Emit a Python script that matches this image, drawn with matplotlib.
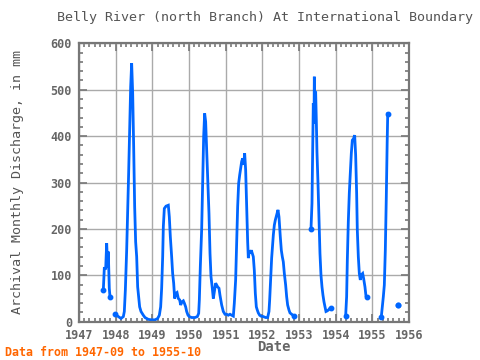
import matplotlib
matplotlib.use("Agg")
import matplotlib.pyplot as plt
from matplotlib.ticker import MultipleLocator
import numpy as np

# traced discharge record, decimal year vs mm, split where the record has gaps
seg1_t = [1947.663, 1947.690, 1947.728, 1947.755, 1947.782, 1947.799, 1947.826, 1947.845]
seg1_v = [68, 115, 115, 169, 116, 151, 72, 54]

seg2_t = [1947.982, 1948.027, 1948.073, 1948.145, 1948.209, 1948.236, 1948.264, 1948.300,
          1948.327, 1948.354, 1948.382, 1948.409, 1948.436, 1948.464, 1948.491, 1948.518,
          1948.545, 1948.573, 1948.600, 1948.627, 1948.654, 1948.691, 1948.754, 1948.800,
          1948.891, 1948.982, 1949.073, 1949.145, 1949.191, 1949.227,
          1949.254, 1949.282, 1949.300, 1949.327, 1949.373, 1949.436, 1949.463, 1949.491,
          1949.527, 1949.554, 1949.582, 1949.609, 1949.636, 1949.673, 1949.709, 1949.745,
          1949.773, 1949.809, 1949.845, 1949.873, 1949.909, 1949.936, 1949.973, 1950.009,
          1950.073, 1950.163, 1950.227, 1950.264, 1950.282, 1950.309, 1950.345, 1950.373,
          1950.400, 1950.427, 1950.454, 1950.482, 1950.509, 1950.545, 1950.573, 1950.600,
          1950.636, 1950.663, 1950.691, 1950.727, 1950.754, 1950.782, 1950.818, 1950.845,
          1950.891, 1950.936, 1950.982,
          1951.027, 1951.072, 1951.118, 1951.163, 1951.209, 1951.236, 1951.272, 1951.300,
          1951.327, 1951.354, 1951.382, 1951.409, 1951.436, 1951.463, 1951.491, 1951.518,
          1951.545, 1951.572, 1951.600, 1951.618, 1951.645, 1951.672, 1951.700, 1951.727,
          1951.754, 1951.781, 1951.809, 1951.836, 1951.863, 1951.890, 1951.927, 1951.963,
          1952.027, 1952.090, 1952.145, 1952.181, 1952.200, 1952.227, 1952.254, 1952.300,
          1952.327, 1952.354, 1952.390, 1952.427, 1952.454, 1952.490, 1952.518, 1952.545,
          1952.572, 1952.600, 1952.636, 1952.663, 1952.690, 1952.727, 1952.754, 1952.800,
          1952.863]
seg2_v = [16, 14, 11, 7, 11, 22, 68, 154,
          233, 320, 413, 506, 557, 492, 377, 248,
          172, 140, 75, 54, 32, 22, 14, 9,
          5, 4, 4, 7, 14, 32,
          72, 140, 205, 244, 249, 251, 226, 183,
          140, 104, 83, 50, 61, 63, 50, 47,
          36, 43, 45, 40, 32, 22, 14, 11,
          9, 9, 11, 18, 47, 119, 198, 298,
          399, 449, 431, 370, 312, 233, 147, 97,
          72, 50, 65, 83, 79, 75, 72, 57,
          36, 22, 16,
          16, 14, 16, 14, 12, 40, 90, 169,
          248, 298, 316, 330, 345, 352, 338, 363,
          327, 248, 172, 137, 154, 147, 154, 147,
          140, 111, 61, 32, 25, 19, 14, 12,
          11, 9, 9, 22, 47, 90, 137, 187,
          208, 219, 230, 241, 226, 183, 154, 140,
          129, 104, 79, 54, 36, 25, 19, 16,
          12]

seg3_t = [1953.327, 1953.354, 1953.372, 1953.390, 1953.409, 1953.418, 1953.436, 1953.454,
          1953.472, 1953.490, 1953.518, 1953.545, 1953.572, 1953.599, 1953.627, 1953.654,
          1953.681, 1953.709, 1953.736, 1953.763, 1953.799, 1953.845, 1953.881]
seg3_v = [200, 255, 363, 471, 427, 528, 435, 496,
          435, 366, 298, 223, 147, 101, 75, 57,
          43, 32, 22, 23, 25, 29, 29]

seg4_t = [1954.272, 1954.299, 1954.318, 1954.345, 1954.372, 1954.399, 1954.427, 1954.454,
          1954.490, 1954.518, 1954.545, 1954.572, 1954.590, 1954.618, 1954.645, 1954.672,
          1954.699, 1954.736, 1954.763, 1954.799, 1954.827, 1954.863]
seg4_v = [12, 54, 133, 216, 277, 320, 363, 391,
          395, 402, 359, 277, 198, 140, 104, 90,
          101, 104, 93, 75, 55, 53]

seg5_t = [1955.245, 1955.272, 1955.300, 1955.327, 1955.354, 1955.381, 1955.405, 1955.420]
seg5_v = [11, 32, 54, 79, 154, 269, 388, 448]

seg6_t = [1955.690]
seg6_v = [36]

segments = [(seg1_t, seg1_v), (seg2_t, seg2_v), (seg3_t, seg3_v),
            (seg4_t, seg4_v), (seg5_t, seg5_v), (seg6_t, seg6_v)]

blue = "#0066ff"
gray = "#777777"
txt = "#666666"
mono = "DejaVu Sans Mono"

fig = plt.figure(figsize=(4.8, 3.6), dpi=100)
ax = fig.add_axes([79/480, 1 - 321.7/360, 330/480, (321.7 - 43.3)/360])

for t, v in segments:
    ax.plot(t, v, color=blue, lw=2.0, solid_joinstyle="miter")
    ax.plot([t[0], t[-1]], [v[0], v[-1]], "o", color=blue, ms=3.2)

ax.set_xlim(1947, 1956)
ax.set_ylim(0, 600)
ax.xaxis.set_major_locator(MultipleLocator(1))
ax.xaxis.set_minor_locator(MultipleLocator(1/7))
ax.yaxis.set_major_locator(MultipleLocator(100))
ax.yaxis.set_minor_locator(MultipleLocator(20))
ax.grid(True, which="major", color="#aaaaaa", lw=1)
ax.set_axisbelow(True)

for s in ax.spines.values():
    s.set_color(gray)
    s.set_linewidth(1.6)
ax.tick_params(which="both", direction="in", top=True, right=True, color=gray,
               labelcolor=txt, labelsize=8.5, width=1.2)
ax.tick_params(which="major", length=6, pad=5)
ax.tick_params(which="minor", length=3)
for lab in ax.get_xticklabels() + ax.get_yticklabels():
    lab.set_family(mono)
    lab.set_weight("bold")

fig.text(265/480, 1 - 18/360, "Belly River (north Branch) At International Boundary",
         ha="center", va="center", family=mono, fontsize=9.6, color="#555555")
fig.text(274/480, 1 - 347/360, "Date", ha="center", va="center", family=mono,
         fontsize=10, weight="bold", color=txt)
fig.text(18/480, 1 - 182/360, "Archival Monthly Discharge, in mm", ha="center", va="center",
         rotation=90, family=mono, fontsize=9.6, color="#555555")
fig.text(5/480, 1 - 352/360, "Data from 1947-09 to 1955-10", ha="left", va="center",
         family=mono, fontsize=8.4, weight="bold", color="#ff6600")

fig.savefig("out.png", dpi=100)
